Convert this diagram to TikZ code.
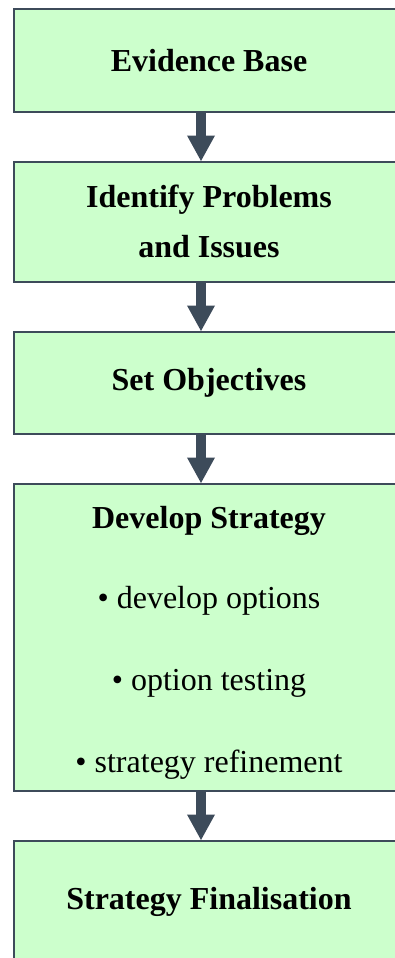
\documentclass[tikz,border=0pt]{standalone}
\usepackage{fontspec}
\setmainfont{Liberation Serif}
\usetikzlibrary{
    arrows.meta,
    positioning
}
\definecolor{boxgreen}{HTML}{CCFFCC}
\definecolor{slate}{HTML}{3D4B5A}
\tikzstyle{stage} = [
    rectangle,
    draw=slate,
    line width=2pt,
    fill=boxgreen,
    minimum width=391pt,
    outer sep=0pt,
    align=center,
    font=\fontsize{32}{50}\selectfont\bfseries
]
\tikzstyle{flow} = [
    -{Triangle[width=26pt,length=26pt]},
    line width=10pt,
    draw=slate
]

\begin{document}
\begin{tikzpicture}[node distance=50pt]
    \useasboundingbox (0,0) rectangle (394pt,-958pt);

    % Process stages
    \node[stage, minimum height=102pt, anchor=north] (evidence) at (209pt,-9.5pt)
        {Evidence Base};

    \node[stage, minimum height=120pt, below=of evidence] (issues)
        {Identify Problems\\and Issues};

    \node[stage, minimum height=102pt, below=of issues] (objectives)
        {Set Objectives};

    \node[stage, minimum height=307pt, below=of objectives] (strategy)
        {\rule{0pt}{34pt}Develop Strategy\\[30pt]
         \textmd{\textbullet\ develop options}\\[32pt]
         \textmd{\textbullet\ option testing}\\[32pt]
         \textmd{\textbullet\ strategy refinement}};

    \node[stage, minimum height=122pt, below=of strategy] (final)
        {Strategy Finalisation};

    % Arrows
    \draw[flow] ([xshift=-8pt]evidence.south) -- ([xshift=-8pt]issues.north);
    \draw[flow] ([xshift=-8pt]issues.south) -- ([xshift=-8pt]objectives.north);
    \draw[flow] ([xshift=-8pt]objectives.south) -- ([xshift=-8pt]strategy.north);
    \draw[flow] ([xshift=-8pt]strategy.south) -- ([xshift=-8pt]final.north);
\end{tikzpicture}
\end{document}
